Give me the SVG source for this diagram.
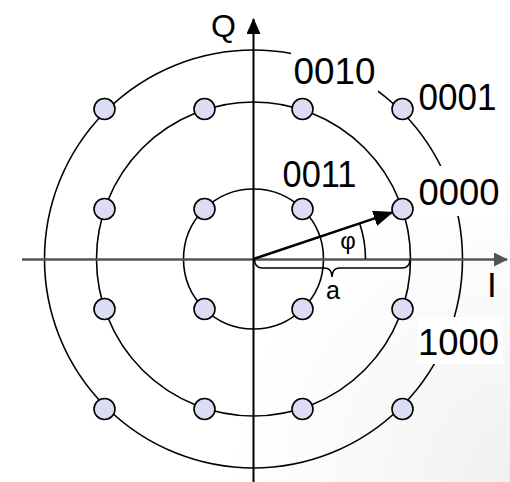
<svg xmlns="http://www.w3.org/2000/svg" width="510" height="482" viewBox="0 0 510 482">
<defs>
<radialGradient id="shade" cx="530" cy="482" r="300" gradientUnits="userSpaceOnUse">
<stop offset="0" stop-color="#efefef"/>
<stop offset="0.5" stop-color="#f8f8f8"/>
<stop offset="1" stop-color="#ffffff"/>
</radialGradient>
<marker id="ahBlack" markerWidth="16" markerHeight="14" refX="15" refY="7" orient="auto" markerUnits="userSpaceOnUse">
<path d="M0,0 L16,7 L0,14 Z" fill="#000"/>
</marker>
<marker id="ahGray" markerWidth="14" markerHeight="14" refX="13" refY="7" orient="auto" markerUnits="userSpaceOnUse">
<path d="M0,0 L14,7 L0,14 Z" fill="#555"/>
</marker>
<marker id="ahVec" markerWidth="20" markerHeight="16" refX="19" refY="8" orient="auto" markerUnits="userSpaceOnUse">
<path d="M0,0 L20,8 L0,16 Z" fill="#000"/>
</marker>
</defs>
<style>
.ring{fill:none;stroke:#000;stroke-width:1.6}
.pt{fill:#dcdcf5;stroke:#000;stroke-width:1.6}
.lbl{font-family:"Liberation Sans",Arial,sans-serif;font-size:37px;fill:#000}
.bg{fill:#fff}
</style>
<rect x="0" y="0" width="510" height="482" fill="url(#shade)"/>

<g id="rings">
<circle class="ring" cx="253.5" cy="259" r="70"/>
<circle class="ring" cx="253.5" cy="259" r="157"/>
<circle class="ring" cx="253.5" cy="259" r="209"/>
</g>

<g id="label-boxes">
<rect class="bg" x="291" y="50" width="87" height="43"/>
<rect class="bg" x="416" y="166" width="90" height="50"/>
<rect class="bg" x="417" y="317" width="86" height="47"/>
</g>

<g id="connectors">
<line x1="22" y1="259.5" x2="507" y2="259.5" stroke="#555" stroke-width="2.6" marker-end="url(#ahGray)"/>
<line x1="253.5" y1="482" x2="253.5" y2="19" stroke="#000" stroke-width="2" marker-end="url(#ahBlack)"/>
<line x1="253.5" y1="259" x2="392.5" y2="212.3" stroke="#000" stroke-width="2.4" marker-end="url(#ahVec)"/>
<path d="M365.5,259 A112,112 0 0 0 359.7,223.4" fill="none" stroke="#000" stroke-width="1.6"/>
<path d="M254.5,259 Q254.5,268 262.5,268 L324,268 Q332,268 332,277 Q332,268 340,268 L402,268 Q410,268 410,259" fill="none" stroke="#000" stroke-width="1.6"/>
</g>

<g id="n-outer-tl"><circle class="pt" cx="104.5" cy="109" r="10.5"/></g>
<g id="n-0010"><circle class="pt" cx="204.5" cy="109" r="10.5"/></g>
<g id="n-mid-tr"><circle class="pt" cx="302.5" cy="109" r="10.5"/></g>
<g id="n-0001"><circle class="pt" cx="402.5" cy="109" r="10.5"/></g>
<g id="n-mid-l1"><circle class="pt" cx="104.5" cy="209" r="10.5"/></g>
<g id="n-in-tl"><circle class="pt" cx="204.5" cy="209" r="10.5"/></g>
<g id="n-0011"><circle class="pt" cx="302.5" cy="209" r="10.5"/></g>
<g id="n-0000"><circle class="pt" cx="402.5" cy="209" r="10.5"/></g>
<g id="n-mid-l2"><circle class="pt" cx="104.5" cy="309" r="10.5"/></g>
<g id="n-in-bl"><circle class="pt" cx="204.5" cy="309" r="10.5"/></g>
<g id="n-in-br"><circle class="pt" cx="302.5" cy="309" r="10.5"/></g>
<g id="n-1000"><circle class="pt" cx="402.5" cy="309" r="10.5"/></g>
<g id="n-outer-bl"><circle class="pt" cx="104.5" cy="409" r="10.5"/></g>
<g id="n-mid-bl"><circle class="pt" cx="204.5" cy="409" r="10.5"/></g>
<g id="n-mid-br"><circle class="pt" cx="302.5" cy="409" r="10.5"/></g>
<g id="n-outer-br"><circle class="pt" cx="402.5" cy="409" r="10.5"/></g>

<g id="labels">
<text class="lbl" x="293.5" y="84" textLength="82" lengthAdjust="spacingAndGlyphs">0010</text>
<text class="lbl" x="418.5" y="110" textLength="78" lengthAdjust="spacingAndGlyphs">0001</text>
<text class="lbl" x="282.5" y="187" textLength="74" lengthAdjust="spacingAndGlyphs">0011</text>
<text class="lbl" x="418.5" y="205" textLength="81" lengthAdjust="spacingAndGlyphs">0000</text>
<text class="lbl" x="418" y="355" textLength="81" lengthAdjust="spacingAndGlyphs">1000</text>
<text class="lbl" x="487" y="297" style="font-size:35px">I</text>
<text class="lbl" x="211" y="37" style="font-size:32px">Q</text>
<text class="lbl" x="348" y="249" text-anchor="middle" style="font-size:24px">φ</text>
<text class="lbl" x="326" y="299" style="font-size:25px">a</text>
</g>
</svg>
